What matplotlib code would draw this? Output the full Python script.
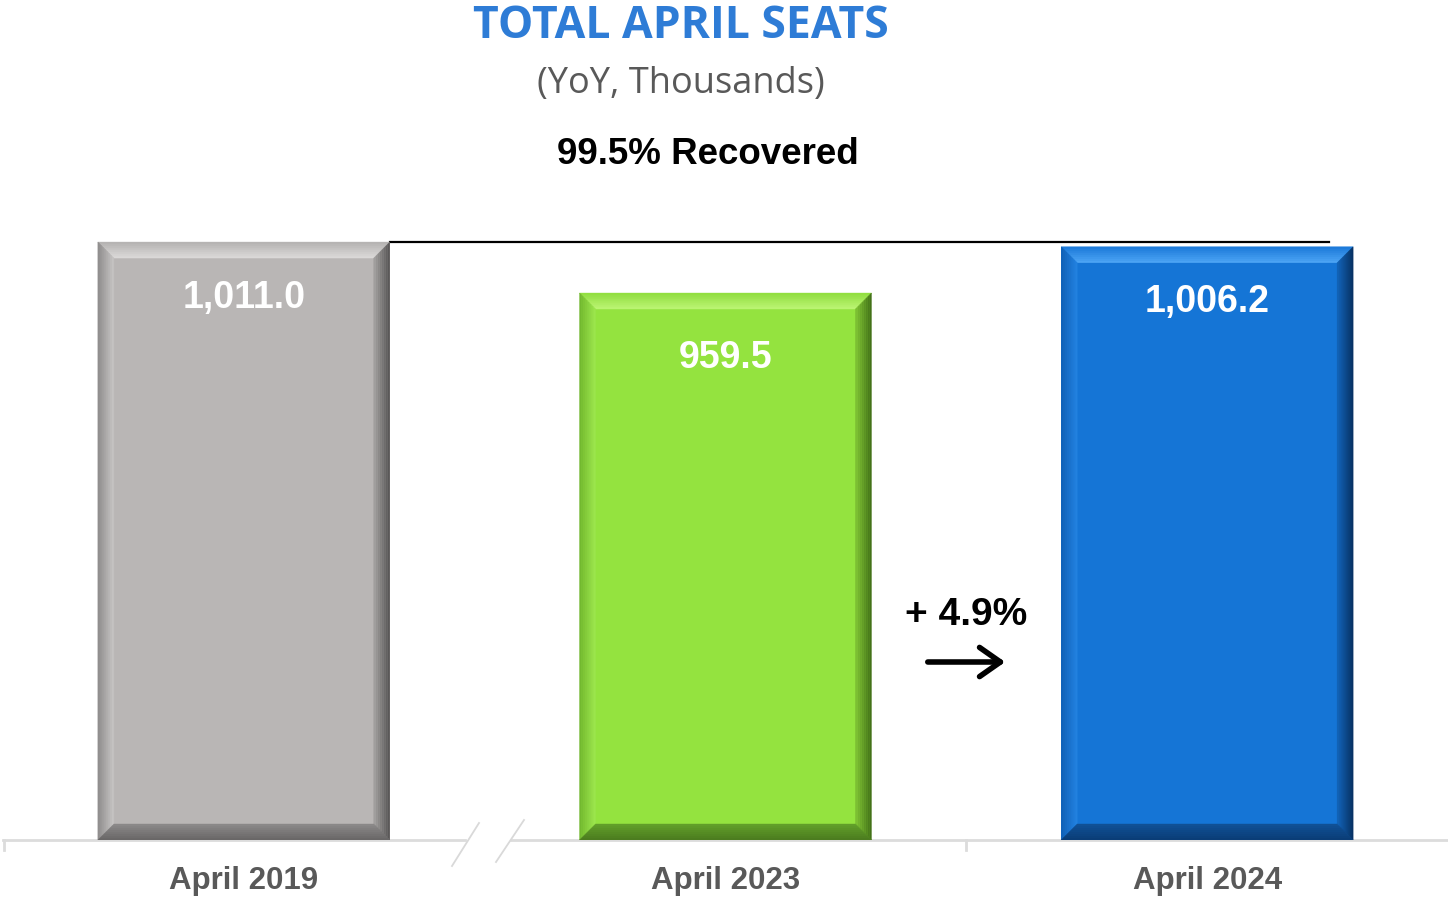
import matplotlib.pyplot as plt
import numpy as np
from matplotlib.patches import Polygon
from matplotlib.lines import Line2D
from matplotlib.colors import to_rgb

# data
periods = ['April 2019', 'April 2023', 'April 2024']
seats = [1011.0, 959.5, 1006.2]
labels = ['1,011.0', '959.5', '1,006.2']
recovered = '99.5% Recovered'
growth = '+ 4.9%'

face_colors = ['#b9b6b5', '#94e33f', '#1575d6']
# bevel (outer, inner) colours per side: top, left, right, bottom
bevels = [
    [('#b3b1b0', '#dddbda'), ('#8c8a8a', '#c8c6c5'), ('#555353', '#a5a3a2'), ('#676565', '#8c8a8a')],
    [('#8fdd3e', '#bdf574'), ('#6fb52d', '#9ee84e'), ('#3f6c16', '#80c434'), ('#4a7a1e', '#62a02a')],
    [('#1a78d8', '#4ea6f6'), ('#0f5fb5', '#2383e2'), ('#072f5e', '#1264ba'), ('#0a3c75', '#105197')],
]

fig = plt.figure(figsize=(14.48, 9), dpi=100)
ax = fig.add_axes([3 / 1448, 60 / 900, 1445 / 1448, 640 / 900])
ymin = 407
ax.set_xlim(-0.5, 2.5)
ax.set_ylim(ymin, ymin + 640 / 0.99)

bars = ax.bar(range(3), [v - ymin for v in seats], bottom=ymin, width=0.606,
              color=face_colors, linewidth=0, zorder=2)

# bevel effect, about 16 px wide, drawn as gradient strips
bx = 16 / 481.5
by = 16 / 0.99
n = 8
for b, bev in zip(bars, bevels):
    x0, x1 = b.get_x(), b.get_x() + b.get_width()
    y0, y1 = b.get_y(), b.get_y() + b.get_height()
    for i in range(n):
        a, c = i / n, (i + 1) / n
        sides = [
            [(x0 + a * bx, y1 - a * by), (x1 - a * bx, y1 - a * by),
             (x1 - c * bx, y1 - c * by), (x0 + c * bx, y1 - c * by)],
            [(x0 + a * bx, y0 + a * by), (x0 + a * bx, y1 - a * by),
             (x0 + c * bx, y1 - c * by), (x0 + c * bx, y0 + c * by)],
            [(x1 - a * bx, y0 + a * by), (x1 - a * bx, y1 - a * by),
             (x1 - c * bx, y1 - c * by), (x1 - c * bx, y0 + c * by)],
            [(x0 + a * bx, y0 + a * by), (x1 - a * bx, y0 + a * by),
             (x1 - c * bx, y0 + c * by), (x0 + c * bx, y0 + c * by)],
        ]
        t = (i + 0.5) / n
        for pts, (co, ci) in zip(sides, bev):
            col = (1 - t) * np.array(to_rgb(co)) + t * np.array(to_rgb(ci))
            ax.add_patch(Polygon(pts, closed=True, facecolor=col, edgecolor=col,
                                 lw=0.3, zorder=3))

# value labels
label_offsets = [-40, -47, -40]
for b, lab, off in zip(bars, labels, label_offsets):
    ax.annotate(lab, (b.get_x() + b.get_width() / 2, b.get_y() + b.get_height()),
                xytext=(0, off), textcoords='offset points', ha='center', va='center',
                color='white', fontsize=27, fontweight='bold', family='Liberation Sans',
                zorder=5)

# reference line at 2019 level
x_start = bars[0].get_x() + bars[0].get_width()
x_end = bars[2].get_x() + bars[2].get_width() - 0.05
ax.plot([x_start, x_end], [seats[0], seats[0]], color='black', lw=1.6, zorder=1)

# baseline with break
for s in ax.spines.values():
    s.set_visible(False)
ax.plot([-0.5, 0.46], [ymin, ymin], color='#dcdcdc', lw=2, clip_on=False, zorder=1)
ax.plot([0.555, 2.5], [ymin, ymin], color='#dcdcdc', lw=2, clip_on=False, zorder=1)
for xt in [-0.5 + 0.003, 1.5]:
    ax.plot([xt, xt], [ymin, ymin - 10], color='#dcdcdc', lw=2, clip_on=False)
fig.add_artist(Line2D([452 / 1448, 479 / 1448], [1 - 866 / 900, 1 - 823 / 900],
                      color='#d9d9d9', lw=1.3))
fig.add_artist(Line2D([496 / 1448, 524 / 1448], [1 - 862 / 900, 1 - 820 / 900],
                      color='#d9d9d9', lw=1.3))

ax.set_xticks(range(3))
ax.set_xticklabels(periods, fontsize=22.5, fontweight='bold', color='#595959',
                   family='Liberation Sans')
ax.tick_params(axis='x', length=0, pad=19)
ax.set_yticks([])

# titles
fig.text(681 / 1448, 1 - 26 / 900, 'TOTAL APRIL SEATS', ha='center', va='center',
         fontsize=32, fontweight='bold', color='#2e7cd6', family='Open Sans')
fig.text(681 / 1448, 1 - 84 / 900, '(YoY, Thousands)', ha='center', va='center',
         fontsize=26, color='#595959', family='Open Sans')
fig.text(708 / 1448, 1 - 155 / 900, recovered, ha='center', va='center',
         fontsize=26.5, fontweight='bold', color='black', family='Liberation Sans')

# growth annotation
fig.text(966 / 1448, 1 - 615 / 900, growth, ha='center', va='center',
         fontsize=28, fontweight='bold', color='black', family='Liberation Sans')
ax.annotate('', xy=(1008 / 1448, 1 - 662 / 900), xytext=(925 / 1448, 1 - 662 / 900),
            xycoords='figure fraction', textcoords='figure fraction',
            arrowprops=dict(arrowstyle='->,head_length=0.5,head_width=0.35',
                            color='black', lw=4, mutation_scale=30))

fig.savefig('out.png', dpi=100)
